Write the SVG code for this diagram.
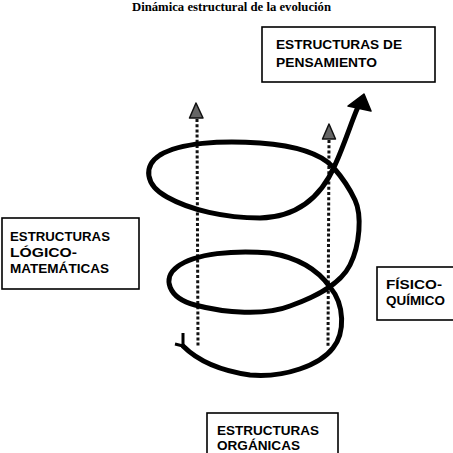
<svg xmlns="http://www.w3.org/2000/svg" width="453" height="453" viewBox="0 0 453 453">
<style>
.box{fill:#fff;stroke:#000;stroke-width:1.6}
.lbl{font-family:"Liberation Sans",Arial,sans-serif;font-weight:bold;font-size:13px;fill:#000}
.title{font-family:"Liberation Serif","Times New Roman",serif;font-weight:bold;font-size:12.5px;fill:#000}
.dash{stroke:#111;stroke-width:3;stroke-dasharray:3 2.2;fill:none}
.gray{fill:#666;stroke:#111;stroke-width:1.5;stroke-linejoin:round}
.spiral{fill:none;stroke:#000;stroke-width:5;stroke-linecap:round;stroke-linejoin:round}
</style>
<rect width="453" height="453" fill="#fff"/>
<text class="title" x="132" y="11" textLength="199" lengthAdjust="spacingAndGlyphs">Dinámica estructural de la evolución</text>

<g id="connectors">
  <line class="dash" x1="197" y1="119" x2="198" y2="347"/>
  <polygon class="gray" points="196,103 189.5,118 203,118"/>
  <line class="dash" x1="329" y1="140" x2="328" y2="347"/>
  <polygon class="gray" points="329,124 322.5,139 335.5,139"/>
  <path class="spiral" d="M183,346 C195,358 215,370 250,375 C285,378 320,365 333,348 C345,333 345,305 330,287 C318,270 300,258 270,253 C235,250 195,253 177,267 C162,278 168,298 195,305 C225,313 265,316 290,306 C315,297 340,285 350,265 C360,245 362,215 355,200 C348,185 340,175 333,167 C322,155 300,146 260,143 C220,140 180,143 160,155 C143,166 145,185 167,197 C190,210 225,218 260,218 C300,217 322,195 335,165 C345,143 352,120 358,107"/>
  <path d="M183,333 L183,346 M175,344 L183,346" fill="none" stroke="#000" stroke-width="3"/>
  <polygon points="364,94 348,106 371,111" fill="#000" stroke="#000" stroke-width="1.5" stroke-linejoin="round"/>
</g>

<g id="pensamiento">
  <rect class="box" x="262" y="27" width="173" height="55"/>
  <text class="lbl" x="276" y="49" textLength="126" lengthAdjust="spacingAndGlyphs">ESTRUCTURAS DE</text>
  <text class="lbl" x="276" y="67" textLength="101" lengthAdjust="spacingAndGlyphs">PENSAMIENTO</text>
</g>

<g id="logico">
  <rect class="box" x="2" y="218" width="137" height="71"/>
  <text class="lbl" x="10" y="241" textLength="100" lengthAdjust="spacingAndGlyphs">ESTRUCTURAS</text>
  <text class="lbl" x="10" y="257" textLength="67" lengthAdjust="spacingAndGlyphs">LÓGICO-</text>
  <text class="lbl" x="10" y="273" textLength="99" lengthAdjust="spacingAndGlyphs">MATEMÁTICAS</text>
</g>

<g id="fisico">
  <rect class="box" x="377" y="267" width="90" height="53"/>
  <text class="lbl" x="386" y="289" textLength="56" lengthAdjust="spacingAndGlyphs">FÍSICO-</text>
  <text class="lbl" x="386" y="305" textLength="59" lengthAdjust="spacingAndGlyphs">QUÍMICO</text>
</g>

<g id="organicas">
  <rect class="box" x="207" y="413" width="131" height="50"/>
  <text class="lbl" x="217" y="435" textLength="102" lengthAdjust="spacingAndGlyphs">ESTRUCTURAS</text>
  <text class="lbl" x="217" y="450" textLength="83" lengthAdjust="spacingAndGlyphs">ORGÁNICAS</text>
</g>
</svg>
